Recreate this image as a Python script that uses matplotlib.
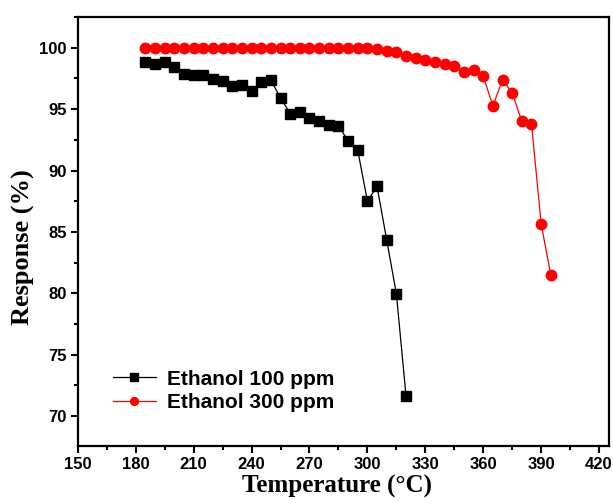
import matplotlib
matplotlib.use('Agg')
import matplotlib.pyplot as plt
from matplotlib.ticker import MultipleLocator

# temperature (°C) and response (%)
temp_100 = [185, 190, 195, 200, 205, 210, 215, 220, 225, 230, 235, 240, 245, 250,
            255, 260, 265, 270, 275, 280, 285, 290, 295, 300, 305, 310, 315, 320]
resp_100 = [98.86, 98.72, 98.86, 98.45, 97.9, 97.77, 97.82, 97.47, 97.28, 96.87,
            97.0, 96.52, 97.22, 97.36, 95.92, 94.64, 94.78, 94.29, 94.0, 93.69,
            93.64, 92.44, 91.65, 87.52, 88.71, 84.34, 79.98, 71.65]

temp_300 = [185, 190, 195, 200, 205, 210, 215, 220, 225, 230, 235, 240, 245, 250,
            255, 260, 265, 270, 275, 280, 285, 290, 295, 300, 305, 310, 315, 320,
            325, 330, 335, 340, 345, 350, 355, 360, 365, 370, 375, 380, 385, 390, 395]
resp_300 = [100.0, 100.0, 100.0, 100.0, 100.0, 100.0, 100.0, 100.0, 100.0, 100.0,
            100.0, 100.0, 100.0, 100.0, 100.0, 100.0, 100.0, 100.0, 100.0, 100.0,
            100.0, 100.0, 100.0, 100.0, 99.93, 99.73, 99.65, 99.32, 99.16, 99.02,
            98.83, 98.67, 98.53, 97.99, 98.17, 97.69, 95.27, 97.39, 96.33, 94.01,
            93.8, 85.67, 81.5]

fig = plt.figure(figsize=(6.13, 5.03), dpi=100)
ax = fig.add_axes([0.127, 0.114, 0.866, 0.852])

ax.plot(temp_100, resp_100, color='black', marker='s', markersize=7.2, lw=0.9,
        label='Ethanol 100 ppm')
ax.plot(temp_300, resp_300, color='red', marker='o', markersize=7.5, lw=0.9,
        label='Ethanol 300 ppm')

ax.set_xlim(150, 425)
ax.set_ylim(67.6, 102.5)
ax.xaxis.set_major_locator(MultipleLocator(30))
ax.xaxis.set_minor_locator(MultipleLocator(15))
ax.yaxis.set_major_locator(MultipleLocator(5))
ax.yaxis.set_minor_locator(MultipleLocator(2.5))

ax.tick_params(which='major', direction='out', length=5, width=1.5,
               labelsize=12, pad=3)
ax.tick_params(which='minor', direction='out', length=3, width=1.5)
for lab in ax.get_xticklabels() + ax.get_yticklabels():
    lab.set_fontfamily('Liberation Sans')
    lab.set_fontweight('bold')
for s in ax.spines.values():
    s.set_linewidth(1.6)

ax.set_xlabel('Temperature (°C)', fontsize=18, fontweight='bold',
              family='Liberation Serif', labelpad=2)
ax.set_ylabel('Response (%)', fontsize=19, fontweight='bold',
              family='Liberation Serif')
ax.xaxis.label.set_x(0.488)
ax.yaxis.set_label_coords(-0.081, 0.464)

leg = ax.legend(loc='lower left', bbox_to_anchor=(0.03, 0.035), frameon=False,
                prop={'family': 'Liberation Sans', 'weight': 'bold', 'size': 15},
                markerscale=0.75, handlelength=2.1, handletextpad=0.5,
                labelspacing=0.2)

fig.savefig('out.png', dpi=100)
